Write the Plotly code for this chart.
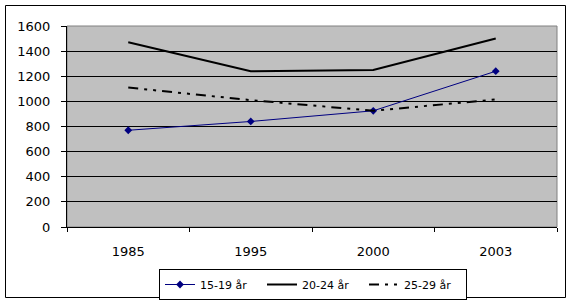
import plotly.graph_objects as go

years = ["1985", "1995", "2000", "2003"]
s1519 = [770, 840, 925, 1240]
s2024 = [1470, 1240, 1250, 1500]
s2529 = [1110, 1010, 925, 1015]
names = ["15-19 år", "20-24 år", "25-29 år"]
y_ticks = [0, 200, 400, 600, 800, 1000, 1200, 1400, 1600]

fig = go.Figure()
fig.add_trace(go.Scatter(x=years, y=s1519, name=names[0], mode="lines+markers",
                         line=dict(color="#000080", width=1),
                         marker=dict(symbol="diamond", size=6, color="#000080")))
fig.add_trace(go.Scatter(x=years, y=s2024, name=names[1], mode="lines",
                         line=dict(color="#000000", width=2)))
fig.add_trace(go.Scatter(x=years, y=s2529, name=names[2], mode="lines",
                         line=dict(color="#000000", width=2, dash="10px,6px,3px,6px,3px,6px")))

L, R, T, B = 67, 16, 26, 76
W, H = 573, 303
pw, ph = W - L - R, H - T - B

def px2x(px):
    return (px - L) / pw

def px2y(py):
    return (H - B - py) / ph

fig.update_layout(
    width=W, height=H,
    margin=dict(l=L, r=R, t=T, b=B, autoexpand=False),
    paper_bgcolor="white",
    plot_bgcolor="#C0C0C0",
    font=dict(family="DejaVu Sans", size=13, color="black"),
    showlegend=True,
    legend=dict(orientation="h", xref="container", yref="container",
                x=313 / W, xanchor="center",
                y=1 - 269 / H, yanchor="top",
                bordercolor="black", borderwidth=1, bgcolor="white",
                font=dict(family="DejaVu Sans", size=11),
                entrywidth=57, entrywidthmode="pixels",
                itemsizing="trace", tracegroupgap=0),
    shapes=[
        dict(type="rect", xref="paper", yref="paper",
             x0=0, x1=1, y0=0, y1=1, line=dict(color="#808080", width=1), layer="below"),
        dict(type="rect", xref="paper", yref="paper",
             x0=px2x(5.5), x1=px2x(565.5), y0=px2y(297.5), y1=px2y(5.5),
             line=dict(color="black", width=1)),
    ],
)
fig.update_xaxes(type="category", tickson="boundaries", ticks="outside", ticklen=4,
                 tickcolor="black", showline=True, linecolor="black", linewidth=1,
                 showgrid=False, ticklabelstandoff=12, range=[-0.5, 3.5], automargin=False)
fig.update_yaxes(range=[0, 1600], tickvals=y_ticks, ticks="outside", ticklen=5,
                 tickcolor="black", showline=True, linecolor="black", linewidth=1,
                 showgrid=True, gridcolor="black", gridwidth=1, zeroline=False,
                 ticklabelstandoff=8, automargin=False)

fig.write_html("out.html")
